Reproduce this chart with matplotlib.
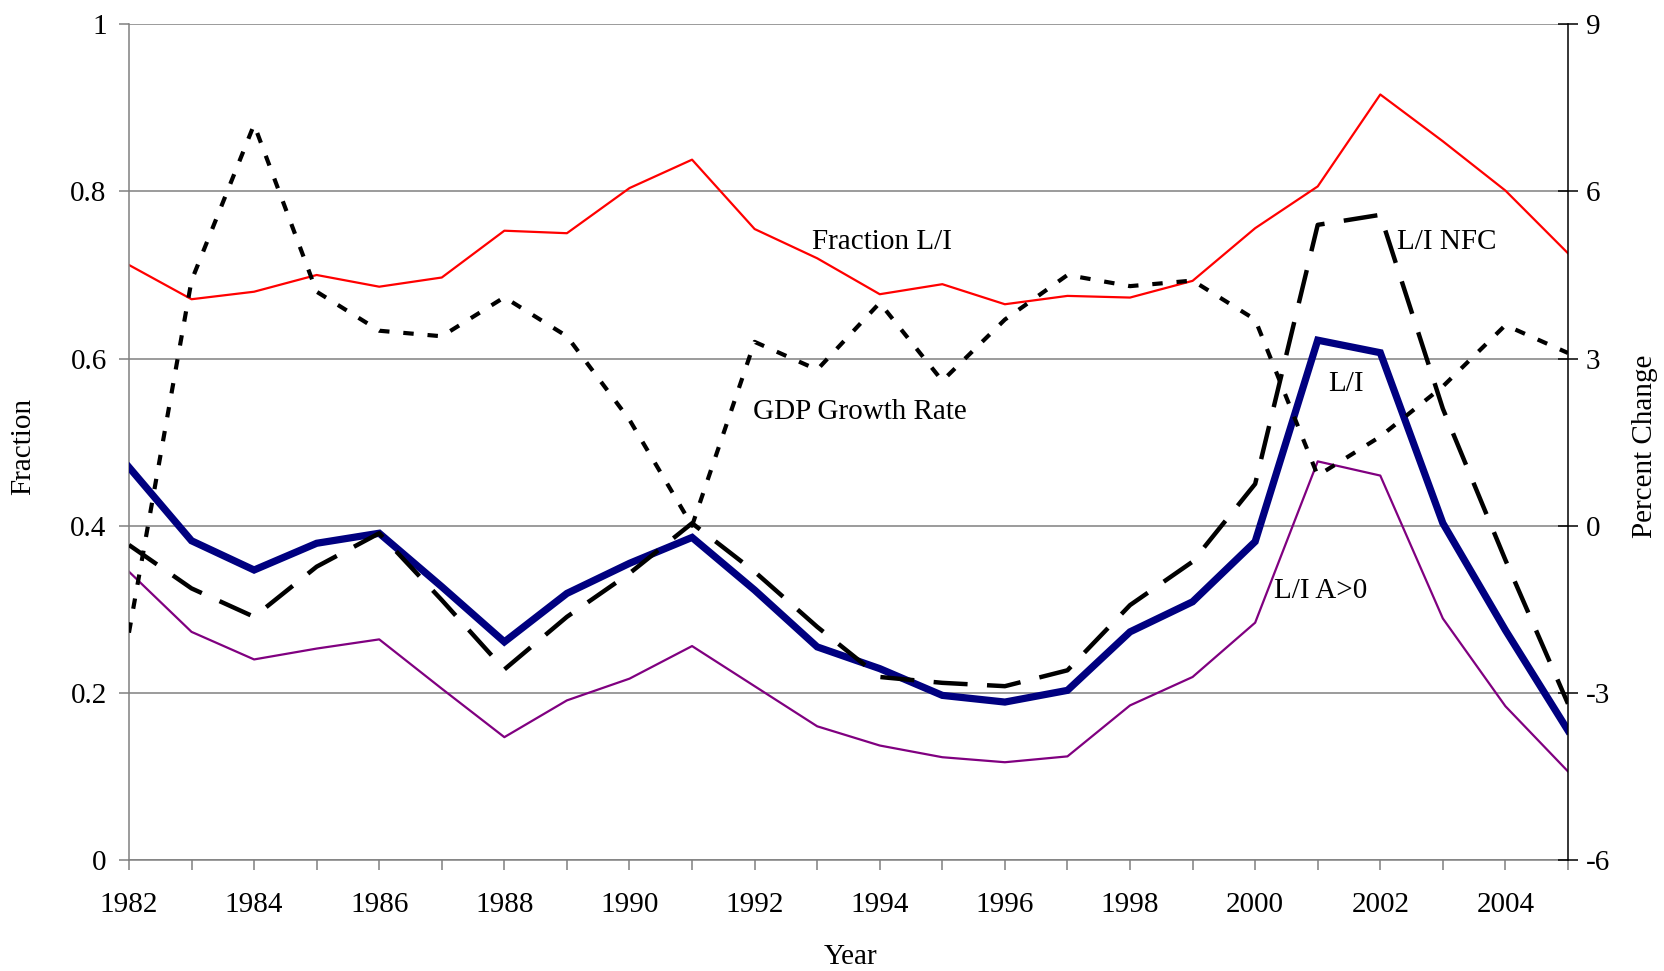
import matplotlib
matplotlib.use("Agg")
import matplotlib.pyplot as plt

plt.rcParams['font.family'] = ['Liberation Serif', 'DejaVu Serif']
plt.rcParams['lines.scale_dashes'] = False

years = list(range(1982, 2006))
fraction_li = [0.712, 0.671, 0.680, 0.700, 0.686, 0.697, 0.753, 0.750, 0.804, 0.838,
               0.755, 0.720, 0.677, 0.689, 0.665, 0.675, 0.673, 0.693, 0.756, 0.806,
               0.916, 0.860, 0.801, 0.726]
li = [0.470, 0.382, 0.347, 0.379, 0.391, 0.327, 0.261, 0.319, 0.355, 0.386,
      0.323, 0.255, 0.229, 0.197, 0.189, 0.203, 0.273, 0.309, 0.381, 0.622,
      0.607, 0.403, 0.275, 0.155]
li_nfc = [0.377, 0.325, 0.291, 0.351, 0.391, 0.311, 0.228, 0.291, 0.343, 0.403,
          0.345, 0.279, 0.219, 0.212, 0.208, 0.227, 0.305, 0.357, 0.450, 0.760,
          0.772, 0.540, 0.359, 0.187]
li_apos = [0.345, 0.273, 0.240, 0.253, 0.264, 0.205, 0.147, 0.191, 0.217, 0.256,
           0.208, 0.160, 0.137, 0.123, 0.117, 0.124, 0.185, 0.219, 0.284, 0.477,
           0.460, 0.289, 0.184, 0.106]
gdp_growth = [-1.92, 4.4, 7.2, 4.2, 3.5, 3.4, 4.1, 3.4, 1.9, 0.0,
              3.3, 2.8, 4.0, 2.6, 3.7, 4.5, 4.3, 4.4, 3.7, 0.9,
              1.6, 2.5, 3.6, 3.1]

left_ticks = [0, 0.2, 0.4, 0.6, 0.8, 1.0]
left_labels = ['0', '0.2', '0.4', '0.6', '0.8', '1']
right_ticks = [-6, -3, 0, 3, 6, 9]
x_label_years = list(range(1982, 2005, 2))

fig = plt.figure(figsize=(16.64, 9.71), dpi=100)
ax = fig.add_axes([0.0775, 0.1143, 0.8648, 0.8607])
grey = '#808080'
fs = 21

for y in left_ticks:
    ax.axhline(y, color=grey, lw=1.1, zorder=0.5)

ax.plot(years, fraction_li, color='#ff0000', lw=1.6, zorder=2)
ax.plot(years, li_apos, color='#800080', lw=1.6, zorder=2)
ax.plot(years, li, color='#000080', lw=5.2, zorder=3, solid_joinstyle='miter')
ax.plot(years, li_nfc, color='black', lw=3.2, zorder=4,
        linestyle=(0, (24.5, 14)), dash_capstyle='butt')

ax.set_xlim(1982, 2005)
ax.set_ylim(0, 1)
ax.set_yticks(left_ticks)
ax.set_yticklabels(left_labels)
ax.set_xticks(years)
ax.set_xticklabels([str(y) if y in x_label_years else '' for y in years])
ax.tick_params(axis='both', labelsize=fs, color=grey, direction='out', length=7, width=1.1)
ax.tick_params(axis='x', pad=16)
ax.tick_params(axis='y', pad=9)
for s in ['top', 'right']:
    ax.spines[s].set_visible(False)
for s in ['left', 'bottom']:
    ax.spines[s].set_color(grey)
    ax.spines[s].set_linewidth(1.1)

ax2 = ax.twinx()
ax2.plot(years, gdp_growth, color='black', lw=3.0,
         linestyle=(0, (7.5, 10)), dash_capstyle='butt')
ax2.set_ylim(-6, 9)
ax2.set_yticks(right_ticks)
ax2.set_yticklabels([str(t) for t in right_ticks])
ax2.tick_params(axis='y', labelsize=fs, color='black', direction='inout', length=14, width=1.1, pad=6)
for s in ['top', 'left', 'bottom']:
    ax2.spines[s].set_visible(False)
ax2.spines['right'].set_color('black')
ax2.spines['right'].set_linewidth(1.1)

# series annotations
ax.text(1992.92, 0.739, 'Fraction L/I', fontsize=fs, ha='left', va='center')
ax.text(1991.98, 0.536, 'GDP Growth Rate', fontsize=fs, ha='left', va='center')
ax.text(2002.27, 0.739, 'L/I NFC', fontsize=fs, ha='left', va='center')
ax.text(2001.17, 0.569, 'L/I', fontsize=fs, ha='left', va='center')
ax.text(2000.30, 0.3215, 'L/I A>0', fontsize=fs, ha='left', va='center')

fig.text(23 / 1664, 1 - 446 / 971, 'Fraction', fontsize=fs, rotation=90, ha='center', va='center')
fig.text(1645 / 1664, 1 - 446 / 971, 'Percent Change', fontsize=fs, rotation=90, ha='center', va='center')
fig.text(851 / 1664, 1 - 957 / 971, 'Year', fontsize=fs, ha='center', va='center')

fig.savefig('out.png', dpi=100)
